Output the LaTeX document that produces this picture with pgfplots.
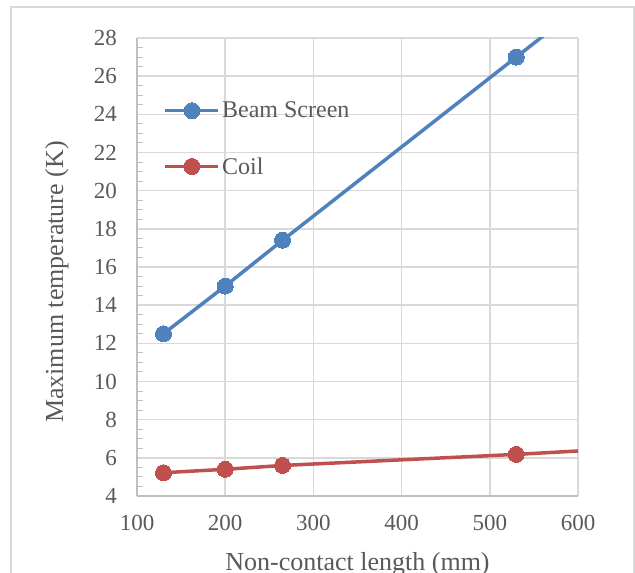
\documentclass[border=0pt]{standalone}
\usepackage{fontspec}
\setmainfont{Liberation Serif}
\usepackage{pgfplots}
\pgfplotsset{compat=1.18}
\definecolor{txt}{HTML}{595959}
\definecolor{gridc}{HTML}{D9D9D9}
\definecolor{axc}{HTML}{BFBFBF}
\definecolor{bsblue}{HTML}{4F81BD}
\definecolor{coilred}{HTML}{C0504D}
\begin{document}
\begin{tikzpicture}
\useasboundingbox (0,0) rectangle (635bp,573bp);
\draw[gridc, line width=1.2bp] (11bp,-10bp) -- (11bp,566bp) -- (634bp,566bp) -- (634bp,-10bp);
\begin{axis}[
  at={(137bp,77bp)}, anchor=south west,
  scale only axis, width=441bp, height=458bp,
  xmin=100, xmax=600, ymin=4, ymax=28,
  xtick={100,200,...,600}, ytick={4,6,...,28},
  minor y tick num=3,
  axis lines=left,
  axis line style={draw=axc, line width=1.5bp, -},
  grid=major,
  major grid style={draw=gridc, line width=1.5bp},
  major tick length=0pt,
  minor tick length=6bp,
  tick align=inside,
  minor tick style={draw=axc, line width=1bp},
  /pgf/number format/assume math mode=true,
  tick label style={font=\fontsize{23bp}{27bp}\selectfont, text=txt},
  yticklabel style={inner sep=0pt, anchor=east, xshift=-20bp},
  xticklabel style={inner sep=0pt, anchor=north, yshift=-19bp},
  xlabel={Non-contact length (mm)},
  ylabel={Maximum temperature (K)},
  label style={font=\fontsize{26bp}{30bp}\selectfont, text=txt},
  xlabel style={at={(axis description cs:0.5,0)}, anchor=base, yshift=-74.5bp, inner sep=0pt},
  ylabel style={at={(axis description cs:-0.1678,0.467)}, anchor=base, rotate=0, inner sep=0pt},
  legend style={draw=none, fill=none, at={(axis description cs:0.06,0.865)}, anchor=north west,
    font=\fontsize{24bp}{28bp}\selectfont, text=txt, row sep=34bp, inner sep=0pt},
  legend cell align=left,
  legend image code/.code={\draw[mark repeat=2,mark phase=2] plot coordinates {(0bp,0bp) (26.5bp,0bp) (53bp,0bp)};},
]
\addplot[forget plot, bsblue, line width=3.5bp] coordinates {(530,27) (600,29.54)};
\addplot[forget plot, coilred, line width=3.5bp] coordinates {(530,6.18) (600,6.36)};
\addplot[bsblue, line width=3.5bp, mark=*, mark size=8bp, mark options={fill=bsblue, draw=bsblue, line width=0pt}]
  coordinates {(130,12.5) (200,15.0) (265,17.4) (530,27.0)};
\addlegendentry{Beam Screen}
\addplot[coilred, line width=3.5bp, mark=*, mark size=8bp, mark options={fill=coilred, draw=coilred, line width=0pt}]
  coordinates {(130,5.22) (200,5.40) (265,5.60) (530,6.18)};
\addlegendentry{Coil}
\end{axis}
\end{tikzpicture}
\end{document}
